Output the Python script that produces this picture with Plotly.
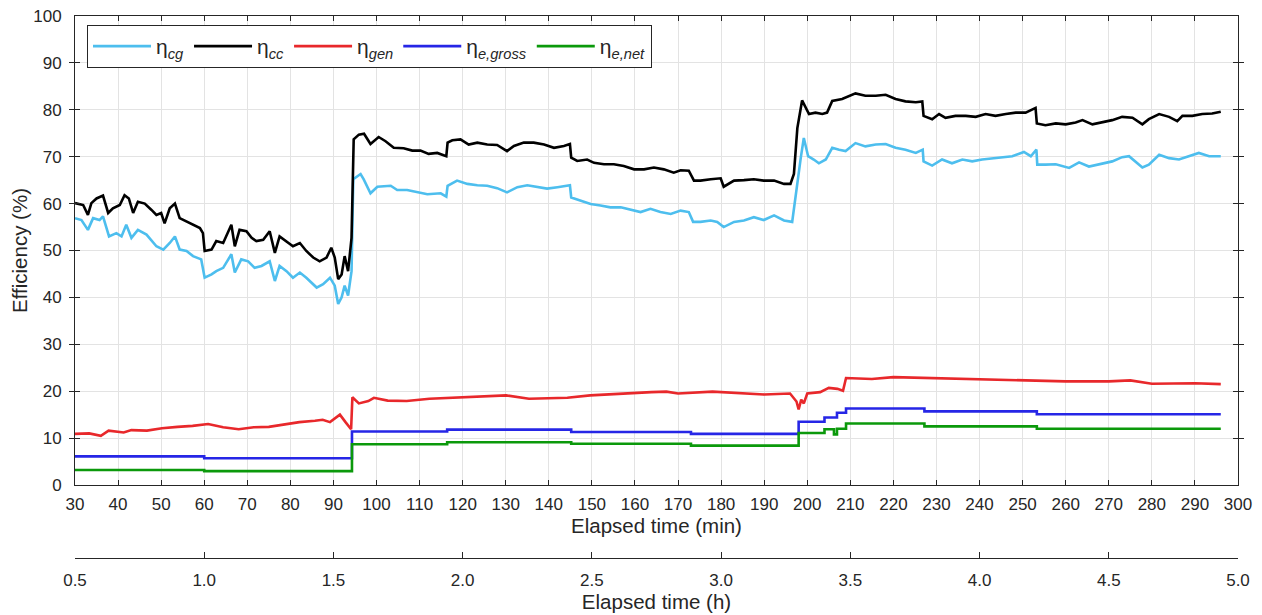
import plotly.graph_objects as go

# ---------------- data ----------------
cc_t = [30, 31.9, 33, 33.8, 35, 36.5, 37.7, 38.8, 40.4, 41.5, 42.5, 43.5, 44.6, 46.2, 47.7, 48.9, 50, 50.8, 52, 53.2,
        54.3, 55.9, 57.4, 59, 59.7, 60.1, 61.7, 62.8, 64.4, 66.3, 67.1, 68.2, 69.8, 71, 72.1, 73.7, 75.2, 76.4, 77.5,
        79.1, 80.6, 82.2, 83.7, 85.3, 86.8, 88.4, 89.5, 90.3, 91.1, 91.9, 92.6, 93.4, 94.2, 94.7, 95.9, 97.1, 98.6,
        100.5, 102.1, 104, 106.3, 108.3, 110.2, 112.1, 114.1, 116.2, 116.5, 117.6, 119.5, 121.4, 123.4, 125.7, 128,
        130.3, 131.9, 134.2, 136.5, 138.9, 141.2, 143.5, 144.9, 145.2, 146.6, 148.9, 150.5, 152.8, 155.1, 157.4,
        159.8, 162.1, 164.4, 166.7, 169, 170.6, 172.5, 173.7, 175.2, 177.6, 179.9, 180.6, 183, 185.3, 187.6, 189.9,
        192.3, 194.6, 196.1, 196.9, 197.7, 198.8, 199.6, 200.4, 201.9, 203.5, 204.6, 205.8, 208.1, 209.7, 211.2,
        213.5, 215.9, 218.2, 220.5, 222.8, 225.2, 226.7, 227, 229, 230.6, 232.1, 234.4, 236.8, 239.1, 241.4, 243.7,
        246.1, 248.4, 250.7, 253, 253.3, 255.3, 257.7, 260, 262.3, 263.9, 266.2, 268.5, 270.8, 273.1, 275.5, 277.8,
        279.3, 281.7, 284, 285.9, 287.1, 289.4, 291.7, 294, 296]
cc_v = [60.1, 59.7, 57.6, 60.1, 61.1, 61.7, 58, 59, 59.7, 61.8, 61.1, 58, 60.4, 60, 58.7, 57.6, 58, 55.8, 59, 60,
        56.9, 56.2, 55.5, 54.8, 53.7, 49.9, 50.2, 52, 51.6, 55.5, 50.9, 54.4, 54.1, 52.7, 52, 52.3, 54.1, 49.5, 53,
        52, 50.9, 51.6, 49.9, 48.5, 47.7, 48.5, 50.6, 48.5, 43.9, 44.9, 48.8, 45.6, 52.7, 73.7, 74.7, 74.9, 72.7,
        74.2, 73.3, 71.9, 71.8, 71.3, 71.3, 70.6, 70.8, 70.1, 73, 73.5, 73.7, 72.6, 73, 72.6, 72.5,
        71.2, 72.3, 73, 73, 72.6, 71.9, 72.3, 72.7, 69.8, 69.1, 69.4, 68.7, 68.4, 68.4, 68,
        67.3, 67.3, 67.7, 67.3, 66.6, 67.1, 67, 64.9, 64.9, 65.2, 65.4, 63.6, 64.9, 65, 65.2, 64.9,
        64.9, 64.2, 64.2, 66.3, 76.1, 82.0, 80.5, 79.1, 79.4, 79.1, 79.4, 81.9, 82.3, 83, 83.5,
        83, 83, 83.2, 82.3, 81.8, 81.6, 81.8, 78.7, 78, 79.1, 78.3, 78.7, 78.7, 78.5, 79.1, 78.7,
        79.1, 79.4, 79.4, 80.4, 77.1, 76.7, 77.1, 76.9, 77.3, 77.8, 76.9, 77.3, 77.8, 78.5, 78.3, 76.9,
        78, 79.1, 78.5, 77.6, 78.7, 78.7, 79.1, 79.2, 79.6]

cg_t = [30, 31.5, 33, 34.2, 35.7, 36.5, 37.9, 39.6, 40.8, 41.9, 43.1, 44.6, 46.6, 48.9, 50.5, 52, 53.2, 54.3, 55.9,
        57.4, 59.3, 60.1, 61.7, 62.8, 64.4, 66.3, 67.1, 68.6, 70.2, 71.7, 73.3, 75.2, 76.4, 77.5, 79.1, 80.6, 82.2,
        83.7, 86.1, 87.6, 89.2, 90.3, 91.1, 91.9, 92.6, 93.4, 94.2, 94.6, 96.3, 97, 98.6, 100.2, 103.3, 104.8, 107.1,
        109.4, 111.8, 114.9, 116.2, 116.5, 118.7, 121.1, 123.4, 125.7, 128, 130.3, 132.7, 135, 137.3, 139.6, 142,
        144.9, 145.2, 147.4, 149.7, 152, 154.3, 156.7, 159, 161.3, 163.6, 165.9, 168.3, 170.6, 172.5, 173.5, 175.2,
        177.6, 179.1, 180.6, 183, 185.3, 187.6, 189.9, 192.3, 194.6, 196.5, 197.3, 198.5, 199.2, 200.2, 201.5, 202.7,
        204.3, 205.8, 207.4, 208.9, 211.2, 213.5, 215.9, 218.2, 220.5, 222.8, 225.2, 226.8, 227, 229, 231.3, 233.6,
        236, 238.3, 240.6, 242.9, 245.3, 247.6, 250.3, 251.9, 253.2, 253.4, 255.3, 257.7, 260.8, 263.1, 265.4, 267.7,
        270.8, 273.1, 274.7, 277.8, 279.3, 281.7, 284, 286.3, 288.6, 290.9, 293.3, 296]
cg_v = [56.9, 56.5, 54.4, 56.9, 56.5, 57.3, 53, 53.7, 53, 55.5, 52.7, 54.4, 53.4, 50.9, 50.2, 51.6, 53, 50.2, 49.9,
        48.8, 48.1, 44.2, 44.9, 45.6, 46.3, 49.2, 45.3, 48.1, 47.7, 46.3, 46.7, 47.7, 43.5, 46.7, 45.6, 44.2, 45.3,
        44.2, 42.1, 42.8, 44.2, 42.5, 38.6, 40, 42.5, 40.4, 45.6, 65.2, 66.3, 65.2, 62.2, 63.6, 63.8, 62.9, 62.9,
        62.4, 62, 62.2, 61.5, 63.8, 64.9, 64.2, 63.9, 63.8, 63.3, 62.4, 63.5, 63.9, 63.6, 63.2, 63.5,
        63.9, 61.3, 60.6, 59.9, 59.6, 59.2, 59.2, 58.7, 58.2, 58.9, 58.2, 57.8, 58.5, 58.2, 56.1, 56.1,
        56.4, 56.1, 55, 56.1, 56.4, 57.1, 56.5, 57.5, 56.4, 56.1, 62, 69.8, 74, 70.1, 69.4, 68.6,
        69.4, 71.9, 71.5, 71.2, 72.9, 72.2, 72.6, 72.7, 71.9, 71.5, 70.8, 71.5, 69, 68.1, 69.4, 68.6,
        69.4, 69, 69.4, 69.6, 69.9, 70.1, 71, 70.1, 71.5, 68.3, 68.3, 68.4, 67.6, 68.8, 67.9, 68.3,
        69, 69.9, 70.1, 67.7, 68.3, 70.4, 69.7, 69.4, 70.1, 70.8, 70.1, 70.1]

gen_t = [30, 33.3, 36, 37.8, 41.3, 43.1, 46.7, 50.2, 53.8, 57.3, 60.9, 64.4, 68, 71.5, 75, 78.6, 82.1, 85.7, 87.5,
         89.2, 91.5, 92.8, 94.1, 94.4, 95.9, 98.1, 99.4, 102.6, 107, 112.3, 117.6, 123, 130.1, 135.4, 144.3, 149.6,
         154.9, 159.3, 163.8, 167.3, 170, 178, 184, 190, 196, 197.5, 198, 198.6, 199.2, 200, 203, 205, 207, 208.3,
         209, 215, 220, 225, 230, 240, 250, 260, 270, 275, 280, 290, 296]
gen_v = [10.9, 11, 10.5, 11.6, 11.2, 11.7, 11.6, 12.1, 12.4, 12.6, 13, 12.3, 11.9, 12.3, 12.4, 12.9, 13.4, 13.7, 13.9,
         13.4, 15, 13.4, 11.9, 18.7, 17.4, 17.9, 18.6, 18, 17.9, 18.4, 18.6, 18.7, 19.1, 18.4, 18.6, 19.1,
         19.4, 19.6, 19.8, 19.9, 19.5, 19.9, 19.6, 19.3, 19.5, 17.8, 16.1, 18.2, 17.4, 19.5, 19.8, 20.7, 20.5, 20.1,
         22.8, 22.6, 23.0, 22.9, 22.7, 22.6, 22.3, 22.1, 22.1, 22.3, 21.6, 21.7, 21.5]

gross_t = [30, 60, 94.3, 116.4, 145.2, 173, 198, 204, 206.9, 209, 227.2, 253.3, 296]
gross_v = [6.1, 5.7, 11.4, 11.8, 11.3, 10.9, 13.5, 14.4, 15.4, 16.3, 15.7, 15.1, 15.1]

net_t = [30, 60, 94.3, 116.4, 145.2, 173, 198, 204, 206.2, 206.9, 209, 227.2, 253.3, 296]
net_v = [3.2, 2.95, 8.7, 9.1, 8.8, 8.4, 11.1, 11.9, 10.8, 12.0, 13.1, 12.5, 12.0, 12.0]

min_ticks = list(range(30, 301, 10))
hour_ticks = [0.5, 1.0, 1.5, 2.0, 2.5, 3.0, 3.5, 4.0, 4.5, 5.0]
y_ticks = list(range(0, 101, 10))

names = ["η<sub><i>cg</i></sub>", "η<sub><i>cc</i></sub>", "η<sub><i>gen</i></sub>",
         "η<sub><i>e,gross</i></sub>", "η<sub><i>e,net</i></sub>"]
colors = ["#4DBEEE", "#000000", "#E8282B", "#2626E6", "#0B990B"]

# ---------------- figure ----------------
fig = go.Figure()
series = [(cg_t, cg_v, "linear"), (cc_t, cc_v, "linear"), (gen_t, gen_v, "linear"),
          (gross_t, gross_v, "hv"), (net_t, net_v, "hv")]
for (t, v, shape), nm, col in zip(series, names, colors):
    fig.add_trace(go.Scatter(x=t, y=v, mode="lines", name=nm,
                             line=dict(color=col, width=2.6, shape=shape),
                             xaxis="x", yaxis="y"))

# invisible trace to activate the hour axis
fig.add_trace(go.Scatter(x=[hour_ticks[0], hour_ticks[-1]], y=[None, None], mode="lines",
                         xaxis="x2", yaxis="y", showlegend=False, hoverinfo="skip"))

axis_col = "#262626"
grid_col = "#E3E3E3"
OFF = 8                      # page body margin offset
W, H = 1262 - OFF, 615 - OFF
mt, mb = 16 - OFF, 2
ph = H - mt - mb
def ypaper(px_page):
    return (H - mb - (px_page - OFF)) / ph

fig.update_layout(
    width=W, height=H,
    margin=dict(l=75 - OFF, r=W - (1238 - OFF), t=mt, b=mb, autoexpand=False),
    paper_bgcolor="white", plot_bgcolor="white",
    font=dict(family="Liberation Sans, Arial, sans-serif", size=17, color=axis_col),
    xaxis=dict(range=[30, 300], tickvals=min_ticks, ticks="inside", ticklen=5, tickcolor=axis_col,
               showline=True, linecolor=axis_col, linewidth=1, mirror="allticks",
               showgrid=True, gridcolor=grid_col, gridwidth=1, zeroline=False,
               ticklabelstandoff=4, automargin=False, ticklabeloverflow="allow",
               title=dict(text="Elapsed time (min)", font=dict(size=20.5), standoff=4),
               anchor="y"),
    yaxis=dict(range=[0, 100], tickvals=y_ticks, ticks="inside", ticklen=5, tickcolor=axis_col,
               showline=True, linecolor=axis_col, linewidth=1, mirror="allticks",
               showgrid=True, gridcolor=grid_col, gridwidth=1, zeroline=False,
               domain=[ypaper(485), 1], automargin=False, ticklabelstandoff=9,
               ticklabeloverflow="allow",
               title=dict(text="Efficiency (%)", font=dict(size=20.5), standoff=2)),
    xaxis2=dict(range=[0.5, 5.0], tickvals=hour_ticks, tickformat=".1f", overlaying="x",
                anchor="free", position=ypaper(558), side="bottom",
                ticks="inside", ticklen=6, tickcolor=axis_col,
                showline=True, linecolor=axis_col, linewidth=1, showgrid=False, zeroline=False,
                ticklabelstandoff=7, automargin=False, ticklabeloverflow="allow",
                title=dict(text="Elapsed time (h)", font=dict(size=20.5), standoff=5)),
    legend=dict(orientation="h", x=(87 - 75) / 1163, y=ypaper(25), xanchor="left", yanchor="top",
                bgcolor="white", bordercolor=axis_col, borderwidth=1, font=dict(size=21),
                itemwidth=58, tracegroupgap=0),
    showlegend=True,
)

fig.write_html("out.html")
